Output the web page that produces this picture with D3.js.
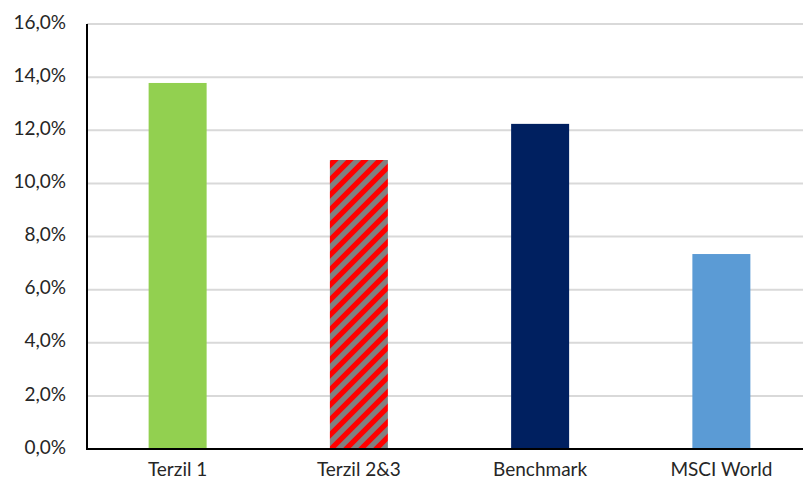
<!DOCTYPE html>
<html><head><meta charset="utf-8">
<script src="https://cdn.jsdelivr.net/npm/d3@7"></script>
<style>body{margin:0;background:#fff}svg{display:block}</style>
</head><body>
<svg id="c" width="803" height="485"></svg>
<script>
(function(){
const categories = ["Terzil 1", "Terzil 2&3", "Benchmark", "MSCI World"];
const values = [13.78, 10.88, 12.24, 7.34];
const yTicks = [0, 2, 4, 6, 8, 10, 12, 14, 16];
const colors = ["#92d050", "url(#hatch)", "#002060", "#5b9bd5"];

const svg = d3.select("#c");
const mLeft = 87, mRight = 812, mTop = 24, mBottom = 449;
const x = d3.scaleBand().domain(categories).range([mLeft, mRight]).paddingInner(0.68).paddingOuter(0.34);
const y = d3.scaleLinear().domain([0, 16]).range([mBottom, mTop]);

const defs = svg.append("defs");
const s = 15;
const p = defs.append("pattern").attr("id", "hatch").attr("patternUnits", "userSpaceOnUse")
  .attr("width", s).attr("height", s);
p.append("rect").attr("width", s).attr("height", s).attr("fill", "#808080");
p.append("path").attr("d", `M0,${s} L${s},0 M${-s/4},${s/4} L${s/4},${-s/4} M${s*3/4},${s*5/4} L${s*5/4},${s*3/4}`)
  .attr("stroke", "#ff0000").attr("stroke-width", 5.3);

const font = "Lato, 'DejaVu Sans', sans-serif";
svg.append("g").selectAll("line").data(yTicks.filter(d => d > 0)).join("line")
  .attr("x1", mLeft).attr("x2", 803).attr("y1", d => y(d)).attr("y2", d => y(d))
  .attr("stroke", "#d9d9d9").attr("stroke-width", 2);

svg.append("g").selectAll("rect").data(categories).join("rect")
  .attr("x", d => x(d)).attr("width", x.bandwidth())
  .attr("y", (d, i) => y(values[i])).attr("height", (d, i) => y(0) - y(values[i]))
  .attr("fill", (d, i) => colors[i]);

const fmt = d => d.toFixed(1).replace(".", ",") + "%";
const ya = svg.append("g").attr("transform", `translate(${mLeft},0)`)
  .call(d3.axisLeft(y).tickValues(yTicks).tickFormat(fmt).tickSize(0).tickPadding(21));
ya.select(".domain").remove();
ya.selectAll("text").attr("font-family", font).attr("font-size", 19).attr("fill", "#262626")
  .attr("dy", "0.22em");

const xa = svg.append("g").attr("transform", `translate(0,${mBottom})`)
  .call(d3.axisBottom(x).tickSize(0).tickPadding(14));
xa.select(".domain").remove();
xa.selectAll("text").attr("font-family", font).attr("font-size", 19).attr("fill", "#262626");

svg.append("line").attr("x1", mLeft).attr("x2", mLeft).attr("y1", mTop).attr("y2", mBottom + 1)
  .attr("stroke", "#000").attr("stroke-width", 2);
svg.append("line").attr("x1", mLeft).attr("x2", 803).attr("y1", mBottom).attr("y2", mBottom)
  .attr("stroke", "#000").attr("stroke-width", 2);
})();
</script>
</body></html>
